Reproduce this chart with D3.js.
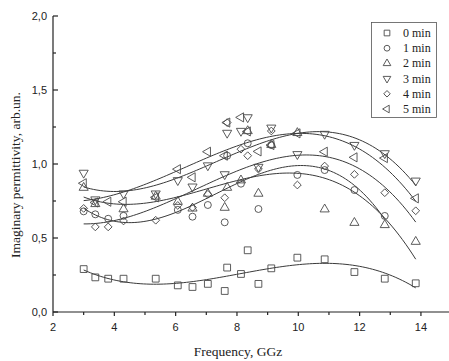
<!DOCTYPE html>
<html lang="en">
<head>
  <meta charset="UTF-8">
  <title>Imaginary permittivity</title>
  <script src="https://d3js.org/d3.v7.min.js"></script>
  <style>
    body { margin: 0; background: #fff; }
    .tick-label { font: 11px "Liberation Sans", Arial, sans-serif; fill: #222; }
    .title { font: 13.5px "Liberation Serif", "Times New Roman", serif; fill: #222; }
    .legend text { font: 12px "Liberation Serif", "Times New Roman", serif; fill: #222; }
    .fit { fill: none; stroke: #3a3a3a; stroke-width: 1; }
    .mark { fill: none; stroke: #4a4a4a; stroke-width: 0.9; }
  </style>
</head>
<body>
<script>
  // measured frequencies, GHz
  const freq = [3.0, 3.38, 3.8, 4.3, 5.35, 6.07, 6.55, 7.05, 7.6, 7.68, 8.13, 8.35, 8.7, 9.12, 9.97, 10.86, 11.83, 12.82, 13.83];

  // one list per exposure time (null = no point)
  const min0 = [0.29, 0.234, 0.225, 0.225, 0.225, 0.18, 0.169, 0.19, 0.142, 0.30, 0.257, 0.417, 0.19, 0.295, 0.367, 0.356, 0.27, 0.225, 0.194];
  const min1 = [0.68, 0.66, 0.63, 0.65, null, 0.69, 0.644, 0.723, 0.606, 1.056, 0.867, 1.14, 0.696, 1.128, 0.926, 0.959, 0.824, 0.649, null];
  const min2 = [0.84, 0.73, null, 0.695, 0.78, 0.745, 0.70, 0.80, 0.705, 0.84, 0.89, 1.223, 0.80, 1.13, 1.21, 0.694, 0.603, 0.588, 0.475];
  const min3 = [0.94, 0.76, null, 0.80, 0.80, 0.89, 0.847, 0.99, 0.93, 1.21, 1.223, 1.315, 0.98, 1.245, 1.066, 1.203, 1.128, 1.072, 0.887];
  const min4 = [0.70, 0.575, 0.575, 0.615, 0.62, 0.72, 0.707, 0.795, 0.772, 1.28, 1.10, 1.056, 0.966, 1.223, 0.858, 0.986, 0.93, 0.806, 0.684];
  const min5 = [0.87, 0.74, 0.745, 0.745, 0.775, 0.965, 0.91, 1.083, 1.056, 1.28, 1.315, 1.22, 1.085, 1.128, 1.207, 1.083, 1.045, 1.04, 0.768];

  const labels = ["0 min", "1 min", "2 min", "3 min", "4 min", "5 min"];
  // marker kinds: square, circle, up, down, diamond, left
  const kinds = ["square", "circle", "up", "down", "diamond", "left"];

  const xTicks = [2, 4, 6, 8, 10, 12, 14];
  const yTicks = [0, 0.5, 1.0, 1.5, 2.0];

  const series = [min0, min1, min2, min3, min4, min5];

  const W = 449, H = 361;
  const svg = d3.select("body").append("svg").attr("width", W).attr("height", H);

  const x = d3.scaleLinear().domain([2, 15]).range([53, 451.6]);
  const y = d3.scaleLinear().domain([0, 2]).range([312, 16]);

  // cubic least-squares fit, same as the polynomial fit of the original
  function polyFit(xs, ys, order) {
    const n = order + 1;
    const xm = d3.mean(xs);
    const A = Array.from({length: n}, () => new Array(n + 1).fill(0));
    xs.forEach((xv, k) => {
      const t = xv - xm;
      for (let i = 0; i < n; i++) {
        for (let j = 0; j < n; j++) A[i][j] += Math.pow(t, i + j);
        A[i][n] += ys[k] * Math.pow(t, i);
      }
    });
    for (let i = 0; i < n; i++) {
      let p = i;
      for (let r = i + 1; r < n; r++) if (Math.abs(A[r][i]) > Math.abs(A[p][i])) p = r;
      [A[i], A[p]] = [A[p], A[i]];
      for (let r = 0; r < n; r++) {
        if (r === i) continue;
        const f = A[r][i] / A[i][i];
        for (let c = i; c <= n; c++) A[r][c] -= f * A[i][c];
      }
    }
    const c = A.map((row, i) => row[n] / row[i]);
    return v => c.reduce((s, ci, i) => s + ci * Math.pow(v - xm, i), 0);
  }

  // axes
  const g = svg.append("g").attr("stroke", "#222").attr("stroke-width", 1.2);
  g.append("line").attr("x1", x(2)).attr("x2", W).attr("y1", y(0)).attr("y2", y(0));
  g.append("line").attr("x1", x(2)).attr("x2", x(2)).attr("y1", y(0)).attr("y2", y(2));

  d3.range(2, 16, 1).forEach(v => {
    const major = v % 2 === 0;
    g.append("line").attr("x1", x(v)).attr("x2", x(v))
      .attr("y1", y(0)).attr("y2", y(0) + (major ? 4 : 3));
  });
  d3.range(0, 2.01, 0.25).forEach(v => {
    const major = Math.abs(v * 2 - Math.round(v * 2)) < 1e-6;
    g.append("line").attr("x1", x(2)).attr("x2", x(2) + (major ? 5 : 3))
      .attr("y1", y(v)).attr("y2", y(v));
  });

  svg.selectAll(".xl").data(xTicks).enter().append("text")
    .attr("class", "tick-label").attr("x", d => x(d)).attr("y", y(0) + 19)
    .attr("text-anchor", "middle").text(d => d);
  svg.selectAll(".yl").data(yTicks).enter().append("text")
    .attr("class", "tick-label").attr("x", x(2) - 6).attr("y", d => y(d) + 4)
    .attr("text-anchor", "end").text(d => d.toFixed(1).replace(".", ","));

  svg.append("text").attr("class", "title").attr("x", 238).attr("y", 356)
    .attr("text-anchor", "middle").text("Frequency, GGz");
  svg.append("text").attr("class", "title")
    .attr("transform", "translate(20,175) rotate(-90)")
    .attr("text-anchor", "middle").text("Imaginary permittivity, arb.un.");

  // marker path + rotation for each kind, k scales it
  function marker(kind, k) {
    if (kind === "square") return [d3.symbol(d3.symbolSquare, 46 * k)(), 0];
    if (kind === "circle") return [d3.symbol(d3.symbolCircle, 38 * k)(), 0];
    if (kind === "diamond") return [d3.symbol(d3.symbolSquare, 30 * k)(), 45];
    const tri = d3.symbol(d3.symbolTriangle, 36 * k)();
    return [tri, kind === "up" ? 0 : kind === "down" ? 180 : -90];
  }

  // fits
  const line = d3.line().x(d => x(d[0])).y(d => y(d[1]));
  series.forEach(vals => {
    const pts = freq.map((f, i) => [f, vals[i]]).filter(d => d[1] !== null);
    const fit = polyFit(pts.map(d => d[0]), pts.map(d => d[1]), 3);
    const x0 = pts[0][0], x1 = pts[pts.length - 1][0];
    const curve = d3.range(0, 101).map(k => { const f = x0 + (x1 - x0) * k / 100; return [f, fit(f)]; });
    svg.append("path").attr("class", "fit").attr("d", line(curve));
  });

  // points
  series.forEach((vals, si) => {
    const pts = freq.map((f, i) => [f, vals[i]]).filter(d => d[1] !== null);
    const [p, r] = marker(kinds[si], 1);
    svg.append("g").selectAll("path").data(pts).enter().append("path")
      .attr("class", "mark").attr("d", p)
      .attr("transform", d => `translate(${x(d[0])},${y(d[1])}) rotate(${r})`);
  });

  // legend
  const lg = svg.append("g").attr("class", "legend");
  lg.append("rect").attr("x", 371.5).attr("y", 22.5).attr("width", 65).attr("height", 95)
    .attr("fill", "#fff").attr("stroke", "#555").attr("stroke-width", 0.8);
  labels.forEach((t, i) => {
    const yy = 33 + i * 15.2;
    const [p, r] = marker(kinds[i], 0.7);
    lg.append("path").attr("class", "mark").attr("d", p)
      .attr("transform", `translate(387,${yy}) rotate(${r})`);
    lg.append("text").attr("x", 403).attr("y", yy + 4).text(t);
  });
</script>
</body>
</html>
